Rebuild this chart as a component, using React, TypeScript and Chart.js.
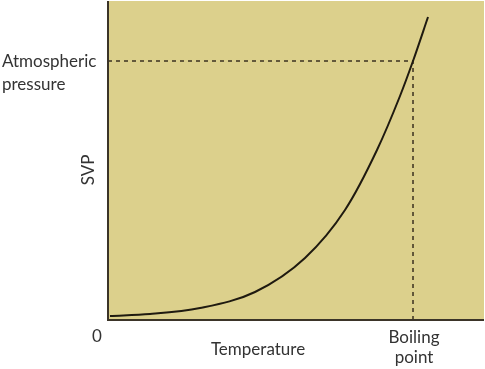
import React, { useEffect, useRef } from "react";
import { Chart, registerables } from "chart.js";

Chart.register(...registerables);

// Temperature (0–100 scale units) and SVP (0–100 scale units)
const temperature = [0.53, 11.17, 24.47, 39.1, 52.39, 63.03, 71.54, 77.66, 81.12, 85.11];
const svp = [1.25, 1.88, 3.76, 8.78, 19.44, 34.48, 53.29, 70.22, 81.19, 94.98];

const boilingPoint = 81.12;
const atmosphericPressure = 81.19;

const yLabelLines = ["Atmospheric", "pressure"];
const yAxisTitle = "SVP";
const originLabel = "0";
const xAxisTitle = "Temperature";
const xLabelLines = ["Boiling", "point"];

const BG = "#DCD08C";
const INK = "#1f1a10";
const TEXT = "#333333";
const FONT = "17px Lato, 'Open Sans', sans-serif";

const decorPlugin = {
  id: "decor",
  beforeDraw(chart: any) {
    const { ctx, chartArea: a } = chart;
    ctx.save();
    ctx.fillStyle = BG;
    ctx.fillRect(a.left, a.top, a.right - a.left, a.bottom - a.top);
    ctx.restore();
  },
  afterDatasetsDraw(chart: any) {
    const { ctx, chartArea: a } = chart;
    ctx.save();
    ctx.strokeStyle = "#3b3428";
    ctx.lineWidth = 2;
    ctx.beginPath();
    ctx.moveTo(a.left, a.top);
    ctx.lineTo(a.left, a.bottom);
    ctx.lineTo(a.right, a.bottom);
    ctx.stroke();
    ctx.restore();
  },
  afterDraw(chart: any) {
    const { ctx, scales } = chart;
    const x = scales.x;
    const y = scales.y;
    ctx.save();
    ctx.fillStyle = TEXT;
    ctx.font = FONT;
    ctx.textBaseline = "middle";
    const yp = y.getPixelForValue(atmosphericPressure);
    ctx.textAlign = "left";
    ctx.fillText(yLabelLines[0], 2, yp + 1);
    ctx.fillText(yLabelLines[1], 2, yp + 24);
    ctx.save();
    ctx.translate(89, 170);
    ctx.rotate(-Math.PI / 2);
    ctx.textAlign = "center";
    ctx.fillText(yAxisTitle, 0, 0);
    ctx.restore();
    ctx.textAlign = "center";
    ctx.fillText(originLabel, 97, 337);
    ctx.fillText(xAxisTitle, 258, 350);
    const xb = x.getPixelForValue(boilingPoint);
    ctx.fillText(xLabelLines[0], xb + 1, 338);
    ctx.fillText(xLabelLines[1], xb + 1, 358);
    ctx.restore();
  },
};

export default function App() {
  const ref = useRef<HTMLCanvasElement>(null);
  useEffect(() => {
    document.body.style.margin = "0";
    const chart = new Chart(ref.current!, {
      type: "line",
      data: {
        datasets: [
          {
            data: temperature.map((t, i) => ({ x: t, y: svp[i] })),
            borderColor: INK,
            borderWidth: 2,
            pointRadius: 0,
            cubicInterpolationMode: "monotone",
            fill: false,
          },
          {
            data: [
              { x: 0, y: atmosphericPressure },
              { x: boilingPoint, y: atmosphericPressure },
              { x: boilingPoint, y: 0 },
            ],
            borderColor: "#3a3020",
            borderWidth: 1.5,
            borderDash: [4, 4],
            pointRadius: 0,
            tension: 0,
            fill: false,
          },
        ],
      },
      options: {
        responsive: false,
        animation: false,
        layout: { padding: { left: 108, right: 1, top: 1, bottom: 49 } },
        plugins: { legend: { display: false }, tooltip: { enabled: false } },
        scales: {
          x: { type: "linear", min: 0, max: 100, display: false },
          y: { type: "linear", min: 0, max: 100, display: false },
        },
      },
      plugins: [decorPlugin],
    } as any);
    return () => chart.destroy();
  }, []);
  return (
    <div style={{ position: "fixed", left: 0, top: 0, width: 485, height: 369, background: "#fff" }}>
      <canvas ref={ref} width={485} height={369} />
    </div>
  );
}
